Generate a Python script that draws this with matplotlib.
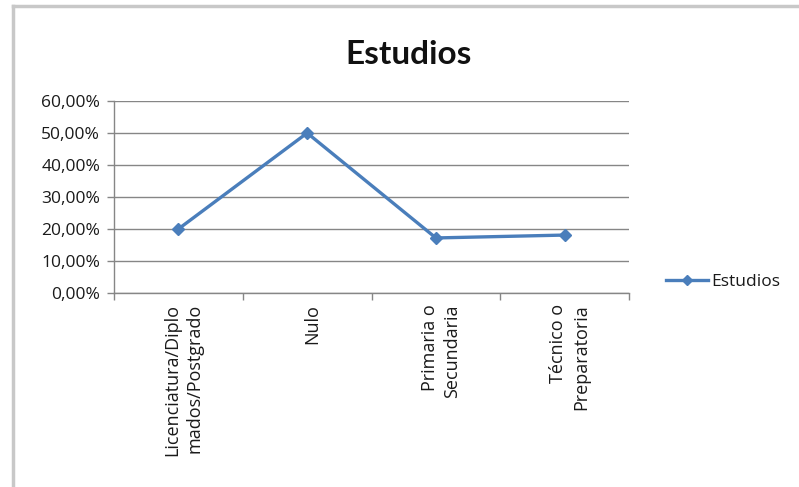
import numpy as np
import matplotlib.pyplot as plt
from matplotlib.ticker import FuncFormatter
from matplotlib.lines import Line2D

plt.rcParams['font.family'] = ['Open Sans', 'DejaVu Sans']

# data
categorias = ['Licenciatura/Diplo\nmados/Postgrado', 'Nulo',
              'Primaria o\nSecundaria', 'Técnico o\nPreparatoria']
estudios = [0.20, 0.50, 0.172, 0.181]
y_ticks = [0.0, 0.1, 0.2, 0.3, 0.4, 0.5, 0.6]

blue = '#4A7EBB'
grid_col = '#868686'
txt_col = '#1a1a1a'

fig = plt.figure(figsize=(7.99, 4.87), dpi=100)
ax = fig.add_axes([0.1427, 0.3984, 0.6446, 0.3942])

x = np.arange(len(categorias))
ax.plot(x, estudios, color=blue, lw=2.4, marker='D', markersize=6.5,
        markerfacecolor=blue, markeredgecolor=blue, zorder=3)

ax.set_xlim(-0.5, len(categorias) - 0.5)
ax.set_ylim(0, 0.6)
ax.set_yticks(y_ticks)
ax.yaxis.set_major_formatter(FuncFormatter(lambda v, p: f'{v*100:.2f}%'.replace('.', ',')))
ax.yaxis.grid(True, color=grid_col, lw=1)
ax.set_axisbelow(True)

# category ticks at boundaries, labels centered
ax.set_xticks(np.arange(-0.5, len(categorias) + 0.5, 1))
ax.set_xticklabels([])
ax.tick_params(axis='x', length=5, color=grid_col, width=1)
ax.tick_params(axis='y', length=5, color=grid_col, width=1, labelsize=12.5,
               pad=5, labelcolor=txt_col)
for i, lab in enumerate(categorias):
    ax.text(i + 0.04, -0.035, lab, rotation=90, ha='center', va='top',
            multialignment='right', fontsize=13, color=txt_col,
            transform=ax.transData, linespacing=1.35)

for s in ['top', 'right']:
    ax.spines[s].set_visible(False)
for s in ['left', 'bottom']:
    ax.spines[s].set_color(grid_col)
    ax.spines[s].set_linewidth(1)

fig.text(0.511, 0.889, 'Estudios', ha='center', va='center', family='Lato',
         fontsize=24, fontweight='bold', color='#111111')

handle = Line2D([], [], color=blue, lw=2.4, marker='D', markersize=5.5)
fig.legend([handle], ['Estudios'], loc='center left',
           bbox_to_anchor=(0.814, 0.421), frameon=False, fontsize=12.5,
           handlelength=2.4, handletextpad=0.2, labelcolor=txt_col)

# outer frame (left and top edges)
fig.add_artist(Line2D([0.0165, 0.0165], [0.0, 0.988], color='#c8c8c8', lw=2.5,
                      transform=fig.transFigure))
fig.add_artist(Line2D([0.0165, 1.0], [0.988, 0.988], color='#c8c8c8', lw=2.5,
                      transform=fig.transFigure))

fig.savefig('out.png', dpi=100)
